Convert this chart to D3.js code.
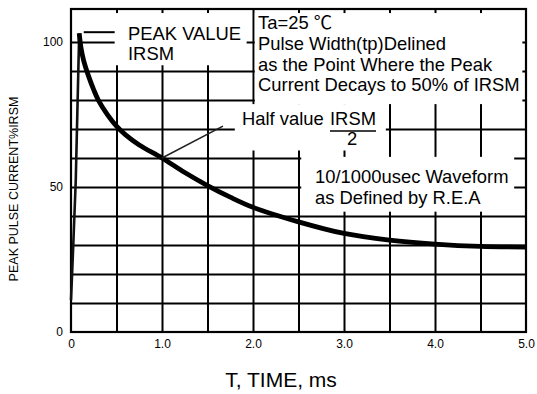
<!DOCTYPE html>
<html>
<head>
<meta charset="utf-8">
<script src="https://cdn.jsdelivr.net/npm/d3@7"></script>
<style>
  body { margin: 0; background: #fff; }
  text { font-family: "Liberation Sans", Arial, sans-serif; fill: #000; }
</style>
</head>
<body>
<div id="pulse-chart"></div>
<script>
// values (time in ms, current in % of IRSM)
const riseTime = [0, 0.025, 0.052, 0.07, 0.09];
const riseValue = [11, 30, 52, 76, 103];
const decayTime = [0.09, 0.11, 0.14, 0.19, 0.25, 0.3, 0.4, 0.5, 0.6, 0.75, 1.0, 1.25, 1.5, 1.75, 2.0, 2.5, 3.0, 3.5, 4.0, 4.5, 5.0];
const decayValue = [103, 98, 93.5, 88.5, 83.5, 80, 75, 71, 68, 64.5, 60, 55, 50.5, 46.5, 43, 38, 34, 31.7, 30.3, 29.5, 29.3];

// tick labels + grid
const xTicks = [0, 1, 2, 3, 4, 5];
const xTickLabels = ["0", "1.0", "2.0", "3.0", "4.0", "5.0"];
const yTicks = [0, 50, 100];
const yTickLabels = ["0", "50", "100"];
const xGrid = [0.5, 1, 1.5, 2, 2.5, 3, 3.5, 4, 4.5];
const yGrid = [10, 20, 30, 40, 50, 60, 70, 80, 90, 100];

// setup dimensions
const margin = { top: 9, right: 11, bottom: 62, left: 71 };
const width = 537 - margin.left - margin.right;
const height = 394 - margin.top - margin.bottom;

const svg = d3.select("#pulse-chart")
  .append("svg")
  .attr("width", 537)
  .attr("height", 394)
  .style("background", "#fff");

const g = svg.append("g")
  .attr("transform", `translate(${margin.left},${margin.top})`);

const x = d3.scaleLinear().domain([0, 5]).range([0, width]);
const y = d3.scaleLinear().domain([0, 111.4]).range([height, 0]);

// grid lines
g.append("g")
  .attr("class", "grid")
  .attr("transform", `translate(0,${height})`)
  .call(d3.axisBottom(x).tickValues(xGrid).tickSize(-height).tickFormat(""))
  .call(s => s.select(".domain").remove());

g.append("g")
  .attr("class", "grid")
  .call(d3.axisLeft(y).tickValues(yGrid).tickSize(-width).tickFormat(""))
  .call(s => s.select(".domain").remove());

g.selectAll(".grid line").attr("stroke", "#000").attr("stroke-width", 2);

// frame
g.append("rect")
  .attr("x", 0).attr("y", 0)
  .attr("width", width).attr("height", height)
  .attr("fill", "none").attr("stroke", "#000").attr("stroke-width", 2.2);

// white boxes behind the notes (in data units)
const boxes = [
  { t0: 0.48, t1: 1.93, v0: 92, v1: 110 },
  { t0: 2.02, t1: 4.96, v0: 78.6, v1: 110 },
  { t0: 1.80, t1: 3.46, v0: 62.6, v1: 78.6 },
  { t0: 2.53, t1: 4.87, v0: 41.5, v1: 60.4 }
];
g.selectAll(".note-box")
  .data(boxes)
  .enter().append("rect")
  .attr("class", "note-box")
  .attr("x", d => x(d.t0))
  .attr("y", d => y(d.v1))
  .attr("width", d => x(d.t1) - x(d.t0))
  .attr("height", d => y(d.v0) - y(d.v1))
  .attr("fill", "#fff");

// axes labels
g.append("g")
  .attr("transform", `translate(0,${height})`)
  .call(d3.axisBottom(x).tickValues(xTicks).tickSize(0).tickPadding(7)
    .tickFormat((d, i) => xTickLabels[i]))
  .call(s => s.select(".domain").remove())
  .selectAll("text").style("font-size", "12px");

g.append("g")
  .call(d3.axisLeft(y).tickValues(yTicks).tickSize(0).tickPadding(8)
    .tickFormat((d, i) => yTickLabels[i]))
  .call(s => s.select(".domain").remove())
  .selectAll("text").style("font-size", "12px");

// the curve
const curveLine = d3.line()
  .x(d => x(d[0])).y(d => y(d[1]))
  .curve(d3.curveCatmullRom.alpha(0.5));

g.append("path")
  .datum(riseTime.map((t, i) => [t, riseValue[i]]))
  .attr("d", curveLine)
  .attr("fill", "none").attr("stroke", "#111").attr("stroke-width", 2.6);

g.append("path")
  .datum(decayTime.map((t, i) => [t, decayValue[i]]))
  .attr("d", curveLine)
  .attr("fill", "none").attr("stroke", "#000").attr("stroke-width", 4.8)
  .attr("stroke-linejoin", "round");

// peak value note
g.append("line")
  .attr("x1", x(0.14)).attr("x2", x(0.48))
  .attr("y1", y(103.4)).attr("y2", y(103.4))
  .attr("stroke", "#000").attr("stroke-width", 2);

const peak = g.append("text").style("font-size", "18.4px");
peak.append("tspan").attr("x", 57).attr("y", 31).text("PEAK VALUE");
peak.append("tspan").attr("x", 57).attr("y", 51).text("IRSM");

// Ta note
const ta = g.append("text").style("font-size", "18.4px");
ta.append("tspan").attr("x", 187).attr("y", 20).text("Ta=25 ");
ta.append("tspan").style("font-family", "'Noto Sans CJK SC', serif").text("℃");
const taLines = ["Pulse Width(tp)Delined", "as the Point Where the Peak", "Current Decays to 50% of IRSM"];
g.append("text").style("font-size", "18.4px")
  .selectAll("tspan")
  .data(taLines)
  .enter().append("tspan")
  .attr("x", 187)
  .attr("y", (d, i) => 41 + i * 20.5)
  .text(d => d);

// half value note
g.append("line")
  .attr("x1", x(1.0)).attr("y1", y(60))
  .attr("x2", x(1.67)).attr("y2", y(71))
  .attr("stroke", "#222").attr("stroke-width", 1.6);

g.append("text").style("font-size", "18.4px")
  .attr("x", 171).attr("y", 116).text("Half value");
g.append("text").style("font-size", "18.4px")
  .attr("x", 259).attr("y", 116).text("IRSM");
g.append("line")
  .attr("x1", 259).attr("x2", 305)
  .attr("y1", 122).attr("y2", 122)
  .attr("stroke", "#000").attr("stroke-width", 1.6);
g.append("text").style("font-size", "18.4px")
  .attr("x", 281).attr("y", 136).attr("text-anchor", "middle").text("2");

// waveform note
const wave = g.append("text").style("font-size", "18.4px");
wave.append("tspan").attr("x", 244).attr("y", 174).text("10/1000usec Waveform");
wave.append("tspan").attr("x", 244).attr("y", 195).text("as Defined by R.E.A");

// axis titles
svg.append("text")
  .attr("x", 281).attr("y", 387)
  .attr("text-anchor", "middle")
  .style("font-size", "21px")
  .text("T, TIME, ms");

svg.append("text")
  .attr("transform", "translate(18,189) rotate(-90)")
  .attr("text-anchor", "middle")
  .style("font-size", "12.5px")
  .text("PEAK PULSE CURRENT%IRSM");
</script>
</body>
</html>
